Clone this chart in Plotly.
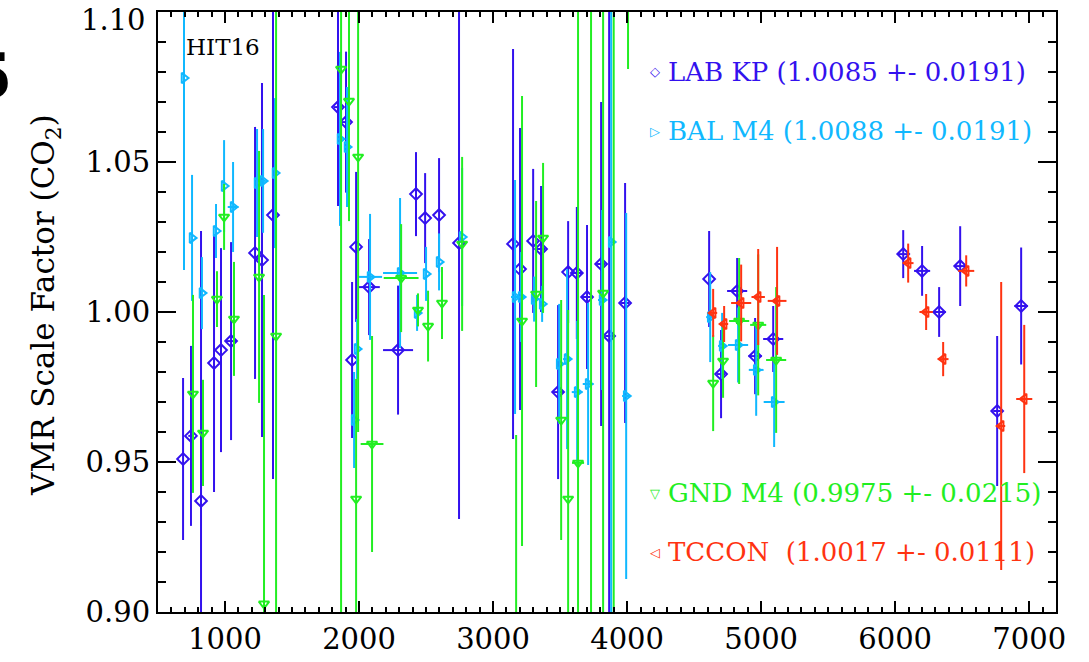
import plotly.graph_objects as go

# ---------------- data ----------------
lab_x = [687, 746, 821, 918, 970, 1045, 1224, 1276, 1358, 1843, 1903, 1978, 1948, 2075, 2291,
         2425, 2493, 2597, 2746, 3149, 3201, 3299, 3358, 3560, 3485, 3625, 3701, 3806, 3866, 3985,
         4612, 4701, 4821, 4955, 5090, 6060, 6201, 6328, 6485, 6761, 6940]
lab_y = [0.951, 0.9587, 0.937, 0.983, 0.9873, 0.9903, 1.0197, 1.0173, 1.0323, 1.0683, 1.0633, 1.0217,
         0.984, 1.0083, 0.9873, 1.0393, 1.0313, 1.0323, 1.023, 1.0227, 1.0143, 1.0237, 1.021, 1.0133,
         0.9733, 1.013, 1.005, 1.016, 0.992, 1.003, 1.011, 0.9793, 1.007, 0.9853, 0.991, 1.0193,
         1.0137, 1.000, 1.0153, 0.967, 1.002]
lab_ey = [0.027, 0.030, 0.090, 0.043, 0.034, 0.033, 0.042, 0.059, 0.088, 0.033, 0.0235, 0.025,
          0.026, 0.016, 0.0215, 0.014, 0.015, 0.019, 0.092, 0.065, 0.047, 0.024, 0.021, 0.017,
          0.029, 0.022, 0.024, 0.054, 0.25, 0.040, 0.016, 0.0147, 0.011, 0.0127, 0.011, 0.008,
          0.0083, 0.0083, 0.0133, 0.025, 0.0195]
lab_ex = [0, 20, 0, 0, 0, 40, 0, 0, 0, 30, 30, 0, 0, 80, 112, 0, 0, 0, 0, 0, 0, 0, 30, 0, 40, 40,
          40, 30, 30, 30, 0, 30, 75, 50, 75, 40, 60, 50, 40, 30, 50]

bal_x = [694, 754, 828, 933, 993, 1060, 1239, 1284, 1373, 1858, 1910, 1985, 1963, 2082, 2306, 2433,
         2500, 2597, 2769, 3164, 3209, 3306, 3366, 3493, 3552, 3627, 3709, 3813, 3881, 3993, 4620,
         4709, 4828, 4963, 5097]
bal_y = [1.078, 1.0247, 1.0063, 1.027, 1.042, 1.035, 1.043, 1.0437, 1.0463, 1.0577, 1.055, 0.9877,
         0.964, 1.0117, 1.013, 0.9997, 1.0127, 1.0167, 1.025, 1.005, 1.005, 1.0043, 1.0027, 0.9827,
         0.9843, 0.9733, 0.976, 1.004, 1.0233, 0.972, 0.9983, 0.9887, 0.989, 0.9807, 0.970]
bal_ey = [0.064, 0.021, 0.012, 0.009, 0.0153, 0.015, 0.018, 0.0173, 0.025, 0.029, 0.02, 0.01,
          0.016, 0.021, 0.025, 0.006, 0.009, 0.0095, 0.023, 0.039, 0.015, 0.0075, 0.006, 0.02,
          0.03, 0.0237, 0.027, 0.03, 0.25, 0.061, 0.015, 0.011, 0.0125, 0.0153, 0.015]
bal_ex = [0, 0, 0, 0, 0, 40, 0, 20, 0, 20, 20, 0, 0, 90, 127, 0, 0, 0, 0, 30, 30, 0, 0, 0, 30, 40,
          40, 30, 20, 30, 30, 30, 75, 55, 78]

gnd_x = [761, 836, 940, 993, 1067, 1254, 1291, 1381, 1866, 1925, 1993, 1978, 2097, 2314, 2440,
         2515, 2619, 2769, 3172, 3216, 3321, 3373, 3508, 3560, 3634, 3731, 3821, 3900, 4007,
         4642, 4716, 4836, 4978, 5112]
gnd_y = [0.9727, 0.9597, 1.0043, 1.0317, 0.9977, 1.0117, 0.9027, 0.992, 1.081, 1.0703, 1.0517,
         0.9377, 0.956, 1.0113, 1.0007, 0.9953, 1.003, 1.0227, 0.87, 0.997, 1.006, 1.0247, 0.964,
         0.9377, 0.9497, 0.85, 1.0063, 0.85, 1.13, 0.9763, 0.9837, 0.997, 0.9957, 0.984]
gnd_ey = [0.033, 0.0177, 0.0093, 0.011, 0.019, 0.042, 0.103, 0.2, 0.2, 0.04, 0.0917, 0.04, 0.036,
          0.018, 0.0055, 0.0118, 0.012, 0.029, 0.089, 0.075, 0.031, 0.025, 0.04, 0.063, 0.2,
          0.35, 0.2, 0.35, 0.049, 0.016, 0.0123, 0.021, 0.0235, 0.0243]
gnd_ex = [0, 0, 0, 0, 0, 0, 0, 0, 0, 0, 0, 0, 85, 130, 0, 0, 0, 0, 0, 0, 0, 0, 0, 0, 45, 0, 0, 0,
          0, 0, 0, 75, 60, 75]

tcc_x = [4642, 4724, 4851, 4978, 5119, 6097, 6231, 6358, 6530, 6791, 6963]
tcc_y = [0.9997, 0.996, 1.003, 1.005, 1.0037, 1.0163, 1.000, 0.9843, 1.0137, 0.962, 0.971]
tcc_ey = [0.008, 0.006, 0.0128, 0.016, 0.018, 0.0065, 0.006, 0.0057, 0.0052, 0.048, 0.0247]
tcc_ex = [30, 30, 75, 50, 70, 40, 50, 40, 60, 30, 60]

legend_labels = ["LAB KP (1.0085 +- 0.0191)", "BAL M4 (1.0088 +- 0.0191)",
                 "GND M4 (0.9975 +- 0.0215)", "TCCON  (1.0017 +- 0.0111)"]
x_ticks = [1000, 2000, 3000, 4000, 5000, 6000, 7000]
y_ticks = [0.90, 0.95, 1.00, 1.05, 1.10]

# ---------------- styling ----------------
C_LAB = "#3311ee"
C_BAL = "#10b8ff"
C_GND = "#22ee22"
C_TCC = "#ff3311"
SERIF = "DejaVu Serif"

W, H = 1089, 662
L, R, T, B = 158, 1056, 12, 612


def px(xp):
    return (xp - L) / (R - L)


def py(yp):
    return (B - yp) / (B - T)


fig = go.Figure()


def add_series(x, y, ey, ex, color, symbol):
    fig.add_trace(go.Scatter(
        x=x, y=y, mode="markers",
        marker=dict(symbol=symbol, size=9, color=color, line=dict(width=2, color=color)),
        error_y=dict(type="data", array=ey, symmetric=True, color=color, thickness=2, width=0),
        error_x=dict(type="data", array=ex, symmetric=True, color=color, thickness=2, width=0),
        showlegend=False, cliponaxis=True))


add_series(lab_x, lab_y, lab_ey, lab_ex, C_LAB, "diamond-open")
add_series(bal_x, bal_y, bal_ey, bal_ex, C_BAL, "triangle-right-open")
add_series(gnd_x, gnd_y, gnd_ey, gnd_ex, C_GND, "triangle-down-open")
add_series(tcc_x, tcc_y, tcc_ey, tcc_ex, C_TCC, "triangle-left-open")

annotations = []
leg = [(72, "◇", C_LAB), (131, "▷", C_BAL), (493, "▽", C_GND), (552, "◁", C_TCC)]
for (yy, sym, col), lab in zip(leg, legend_labels):
    annotations.append(dict(x=px(648), y=py(yy), xref="paper", yref="paper", text=sym,
                            showarrow=False, xanchor="left", yanchor="middle",
                            font=dict(family="DejaVu Sans", size=13, color=col)))
    annotations.append(dict(x=px(666), y=py(yy), xref="paper", yref="paper",
                            text=lab.replace("  ", "&nbsp; "),
                            showarrow=False, xanchor="left", yanchor="middle",
                            font=dict(family=SERIF, size=26, color=col)))

# top y tick label (kept inside the page, as in the reference)
annotations.append(dict(x=px(148), y=py(20), xref="paper", yref="paper", text=f"{y_ticks[-1]:.2f}",
                        showarrow=False, xanchor="right", yanchor="middle",
                        font=dict(family=SERIF, size=29, color="black")))
annotations.append(dict(x=px(184), y=py(47), xref="paper", yref="paper", text="HIT16",
                        showarrow=False, xanchor="left", yanchor="middle",
                        font=dict(family=SERIF, size=23, color="black")))
annotations.append(dict(x=px(45), y=py(305), xref="paper", yref="paper",
                        text="VMR Scale Factor (CO<sub>2</sub>)", textangle=-90,
                        showarrow=False, xanchor="center", yanchor="middle",
                        font=dict(family=SERIF, size=31, color="black")))
annotations.append(dict(x=px(14), y=py(76), xref="paper", yref="paper", text="<b>5</b>",
                        showarrow=False, xanchor="right", yanchor="middle",
                        font=dict(family="DejaVu Sans", size=62, color="black")))

axis_common = dict(showline=True, linewidth=2, linecolor="black", mirror="allticks",
                   ticks="inside", tickcolor="black", tickwidth=1.5, showgrid=False, zeroline=False,
                   automargin=False, ticklabeloverflow="allow",
                   tickfont=dict(family=SERIF, size=29, color="black"))

fig.update_layout(
    width=W, height=H,
    margin=dict(l=L, r=W - R, t=T, b=H - B, pad=0, autoexpand=False),
    paper_bgcolor="white", plot_bgcolor="white",
    xaxis=dict(range=[500, 7200], tickvals=x_ticks, ticktext=[str(v) for v in x_ticks], ticklen=11,
               minor=dict(dtick=100, tick0=0, ticklen=5, ticks="inside", tickcolor="black", tickwidth=1.5,
                          showgrid=False),
               **axis_common),
    yaxis=dict(range=[0.89999, 1.10001], tickvals=y_ticks[:-1],
               ticktext=[f"{v:.2f}" for v in y_ticks[:-1]],
               ticklen=18,
               minor=dict(dtick=0.01, tick0=0.9, ticklen=8, ticks="inside", tickcolor="black", tickwidth=1.5,
                          showgrid=False),
               **axis_common),
    annotations=annotations,
)

fig.write_html("out.html")
